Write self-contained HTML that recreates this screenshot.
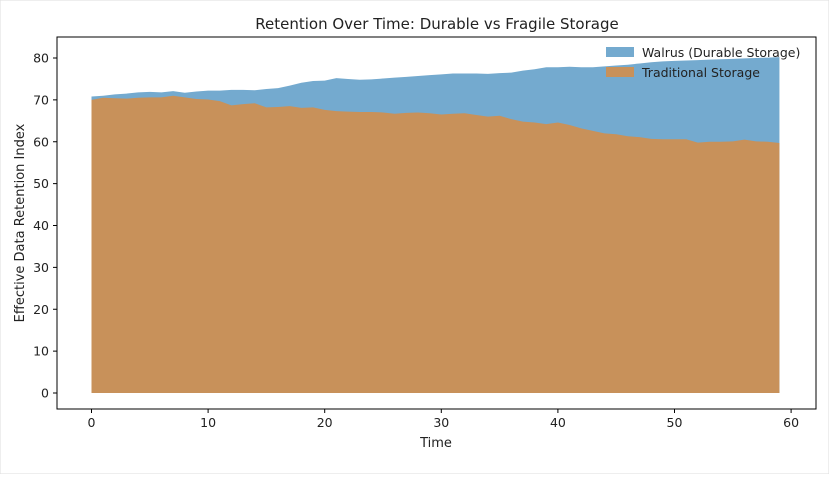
<!DOCTYPE html>
<html><head><meta charset="utf-8"><style>
body{margin:0;background:#fff;font-family:"Liberation Sans","DejaVu Sans",sans-serif;}
svg text{font-family:"DejaVu Sans","Liberation Sans",sans-serif;fill:#222;}
</style></head><body>
<svg id="c" width="829" height="474" xmlns="http://www.w3.org/2000/svg">
<rect x="0" y="0" width="829" height="474" fill="#fff" stroke="#ddd"/>
<text x="437" y="29" text-anchor="middle" font-size="15">Retention Over Time: Durable vs Fragile Storage</text>
<g id="plot"></g>
<text x="436" y="447" text-anchor="middle" font-size="13">Time</text>
<text transform="translate(24,223) rotate(-90)" text-anchor="middle" font-size="13">Effective Data Retention Index</text>
<g>
<rect x="606" y="47" width="28" height="10" fill="#74aacf"/>
<text x="642" y="57" font-size="12.5">Walrus (Durable Storage)</text>
<rect x="606" y="67" width="28" height="10" fill="#c8915a"/>
<text x="642" y="77" font-size="12.5">Traditional Storage</text>
</g>
</svg>
<script>
const times=[];for(let i=0;i<60;i++)times.push(i);
const walrus=[70.8,71.0,71.3,71.5,71.8,71.9,71.8,72.1,71.7,72.0,72.2,72.2,72.4,72.4,72.3,72.6,72.8,73.4,74.1,74.5,74.6,75.2,75.0,74.8,74.9,75.1,75.3,75.5,75.7,75.9,76.1,76.3,76.3,76.3,76.2,76.4,76.5,77.0,77.3,77.8,77.8,77.9,77.8,77.8,78.0,78.2,78.4,78.7,79.0,79.2,79.3,79.4,79.5,79.6,79.7,79.8,79.9,80.0,80.1,80.2];
const traditional=[70.0,70.5,70.4,70.3,70.5,70.6,70.6,71.0,70.6,70.2,70.1,69.7,68.7,69.0,69.2,68.2,68.3,68.5,68.1,68.2,67.6,67.3,67.2,67.1,67.1,67.0,66.7,66.9,67.0,66.8,66.5,66.7,66.8,66.4,66.0,66.2,65.4,64.8,64.6,64.2,64.6,64.0,63.2,62.6,62.0,61.8,61.3,61.1,60.7,60.6,60.6,60.6,59.8,60.0,60.0,60.1,60.5,60.1,60.0,59.7];
const xTicks=[0,10,20,30,40,50,60];
const yTicks=[0,10,20,30,40,50,60,70,80];
const L=57,R=816,T=37,B=409;
const sx=v=>91.5+v*11.66;
const sy=v=>393-v*4.1875;
const NS="http://www.w3.org/2000/svg";
const g=document.getElementById('plot');
function mk(t,a){const e=document.createElementNS(NS,t);for(const k in a)e.setAttribute(k,a[k]);g.appendChild(e);return e;}
function area(vals){let d=`M${sx(times[0])},${sy(0)}`;vals.forEach((v,i)=>d+=`L${sx(times[i])},${sy(v)}`);d+=`L${sx(times[times.length-1])},${sy(0)}Z`;return d;}
const a1=mk('path',{d:area(walrus),fill:'#74aacf'});


const a2=mk('path',{d:area(traditional),fill:'#c8915a'});


const fr=mk('rect',{x:L,y:T,width:R-L,height:B-T,fill:'none',stroke:'#000','stroke-width':1});


xTicks.forEach(v=>{
 const l=mk('line',{x1:sx(v),x2:sx(v),y1:B,y2:B+4,stroke:'#000'});
 
 
 const t=mk('text',{x:sx(v),y:B+18,'text-anchor':'middle','font-size':12.5});t.textContent=v;
 
 
});
yTicks.forEach(v=>{
 const l=mk('line',{x1:L-4,x2:L,y1:sy(v),y2:sy(v),stroke:'#000'});
 
 
 const t=mk('text',{x:L-8,y:sy(v)+4.5,'text-anchor':'end','font-size':12.5});t.textContent=v;
 
 
});
</script>
</body></html>
